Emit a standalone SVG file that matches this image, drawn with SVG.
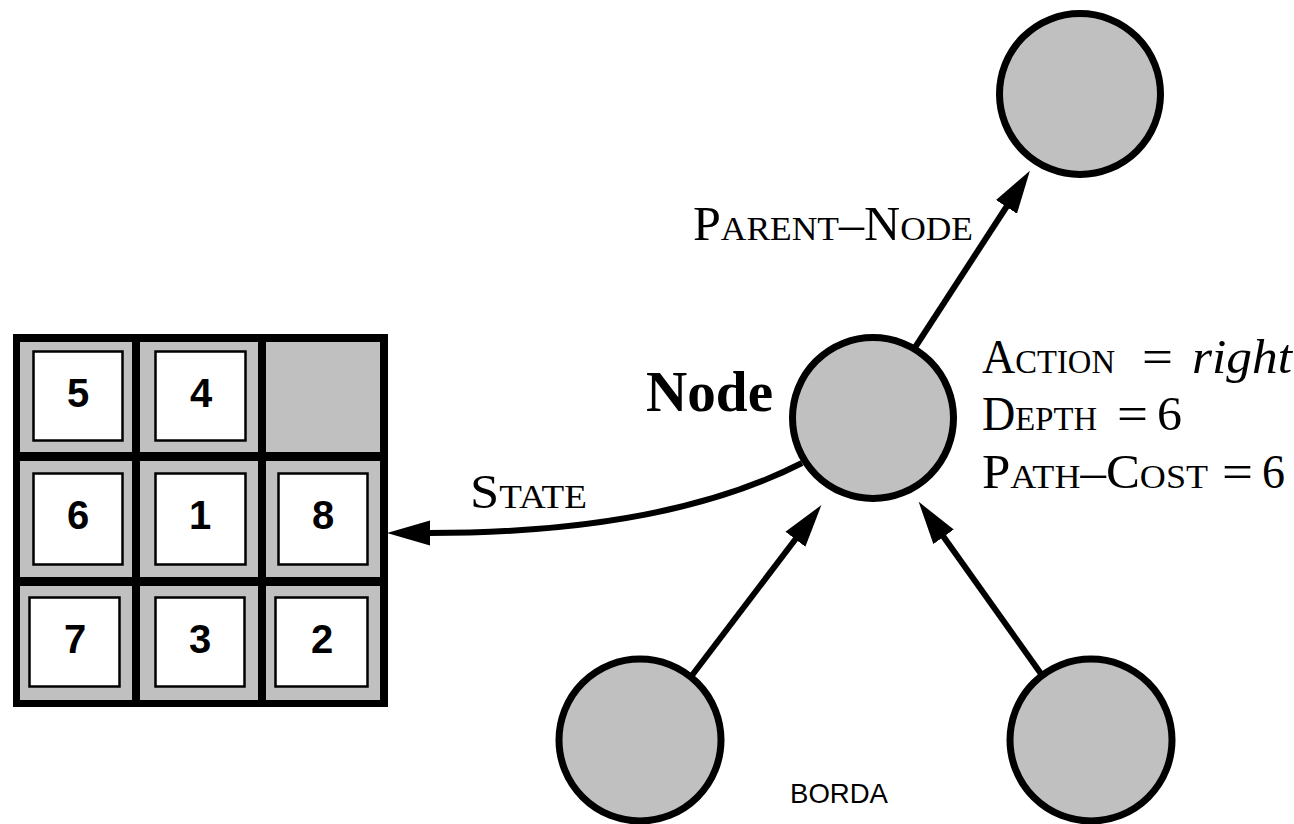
<svg xmlns="http://www.w3.org/2000/svg" width="1294" height="824" viewBox="0 0 1294 824">
<style>
  .node { fill: #c0c0c0; stroke: #000; stroke-width: 7; }
  .cell { fill: #c0c0c0; }
  .tile { fill: #fff; stroke: #000; stroke-width: 2.5; }
  .digit { font-family: "Liberation Sans", Arial, sans-serif; font-weight: bold; font-size: 40px; text-anchor: middle; fill: #000; }
  .conn { fill: none; stroke: #000; stroke-width: 6; }
  .serif { font-family: "Liberation Serif", "Times New Roman", serif; fill: #000; font-size: 48px; }
  .sc { font-variant: small-caps; }
  .it { font-style: italic; }
  .bold { font-weight: bold; font-size: 57px; }
  .sans { font-family: "Liberation Sans", Arial, sans-serif; font-size: 28px; fill: #000; }
</style>
<defs>
  <marker id="arrow" markerUnits="userSpaceOnUse" markerWidth="44" markerHeight="26" viewBox="0 0 44 26" refX="1" refY="13" orient="auto">
    <path d="M0,0.5 L43,13 L0,25.5 Z" fill="#000"/>
  </marker>
</defs>
<rect width="1294" height="824" fill="#fff"/>

<g id="connectors">
  <path class="conn" d="M914,349 L1007,206" marker-end="url(#arrow)"/>
  <path class="conn" d="M690,678 L796,538.5" marker-end="url(#arrow)"/>
  <path class="conn" d="M1044,678 L943,536" marker-end="url(#arrow)"/>
  <path class="conn" d="M802,463 C720,505 600,533 429,533" marker-end="url(#arrow)"/>
</g>

<g id="state-grid">
  <rect x="13" y="334" width="375" height="373" fill="#000"/>
  <rect class="cell" x="20" y="342" width="112" height="110"/>
  <rect class="cell" x="140" y="342" width="118" height="110"/>
  <rect class="cell" x="266" y="342" width="114" height="110"/>
  <rect class="cell" x="20" y="461" width="112" height="116"/>
  <rect class="cell" x="140" y="461" width="118" height="116"/>
  <rect class="cell" x="266" y="461" width="114" height="116"/>
  <rect class="cell" x="20" y="586" width="112" height="114"/>
  <rect class="cell" x="140" y="586" width="118" height="114"/>
  <rect class="cell" x="266" y="586" width="114" height="114"/>
  <rect class="tile" x="33.5" y="351.5" width="89" height="89"/>
  <rect class="tile" x="155.5" y="351.5" width="90" height="89"/>
  <rect class="tile" x="33.5" y="473.5" width="89" height="91"/>
  <rect class="tile" x="155.5" y="473.5" width="90" height="91"/>
  <rect class="tile" x="278.5" y="473.5" width="89" height="91"/>
  <rect class="tile" x="29.5" y="597.5" width="90" height="89"/>
  <rect class="tile" x="155.5" y="597.5" width="89" height="89"/>
  <rect class="tile" x="275.5" y="597.5" width="92" height="89"/>
  <text class="digit" x="78" y="407">5</text>
  <text class="digit" x="201" y="407">4</text>
  <text class="digit" x="78" y="529">6</text>
  <text class="digit" x="200" y="529">1</text>
  <text class="digit" x="323" y="529">8</text>
  <text class="digit" x="75" y="653">7</text>
  <text class="digit" x="200" y="653">3</text>
  <text class="digit" x="322" y="653">2</text>
</g>

<g id="node-parent">
  <circle class="node" cx="1080" cy="94" r="80.5"/>
</g>

<g id="node-main">
  <circle class="node" cx="873" cy="418" r="80.5"/>
  <text class="serif bold" x="646" y="411" textLength="127" lengthAdjust="spacingAndGlyphs">Node</text>
</g>

<g id="node-child-left">
  <circle class="node" cx="640" cy="740" r="81"/>
</g>

<g id="node-child-right">
  <circle class="node" cx="1091" cy="740" r="81"/>
</g>

<g id="label-parent-node">
  <text class="serif sc" x="693" y="240" textLength="280" lengthAdjust="spacingAndGlyphs">Parent–Node</text>
</g>

<g id="label-state">
  <text class="serif sc" x="470" y="508" textLength="117" lengthAdjust="spacingAndGlyphs">State</text>
</g>

<g id="label-fields">
  <text class="serif" y="373"><tspan class="sc" x="982" textLength="133" lengthAdjust="spacingAndGlyphs">Action</tspan><tspan x="1142" textLength="31" lengthAdjust="spacingAndGlyphs">=</tspan><tspan class="it" x="1192" textLength="100" lengthAdjust="spacingAndGlyphs">right</tspan></text>
  <text class="serif" y="430"><tspan class="sc" x="982" textLength="115" lengthAdjust="spacingAndGlyphs">Depth</tspan><tspan x="1117" textLength="31" lengthAdjust="spacingAndGlyphs">=</tspan><tspan x="1157" textLength="25" lengthAdjust="spacingAndGlyphs">6</tspan></text>
  <text class="serif" y="488"><tspan class="sc" x="982" textLength="226" lengthAdjust="spacingAndGlyphs">Path–Cost</tspan><tspan x="1222" textLength="31" lengthAdjust="spacingAndGlyphs">=</tspan><tspan x="1262" textLength="23" lengthAdjust="spacingAndGlyphs">6</tspan></text>
</g>

<g id="label-borda">
  <text class="sans" x="790" y="803" textLength="98" lengthAdjust="spacingAndGlyphs">BORDA</text>
</g>
</svg>
